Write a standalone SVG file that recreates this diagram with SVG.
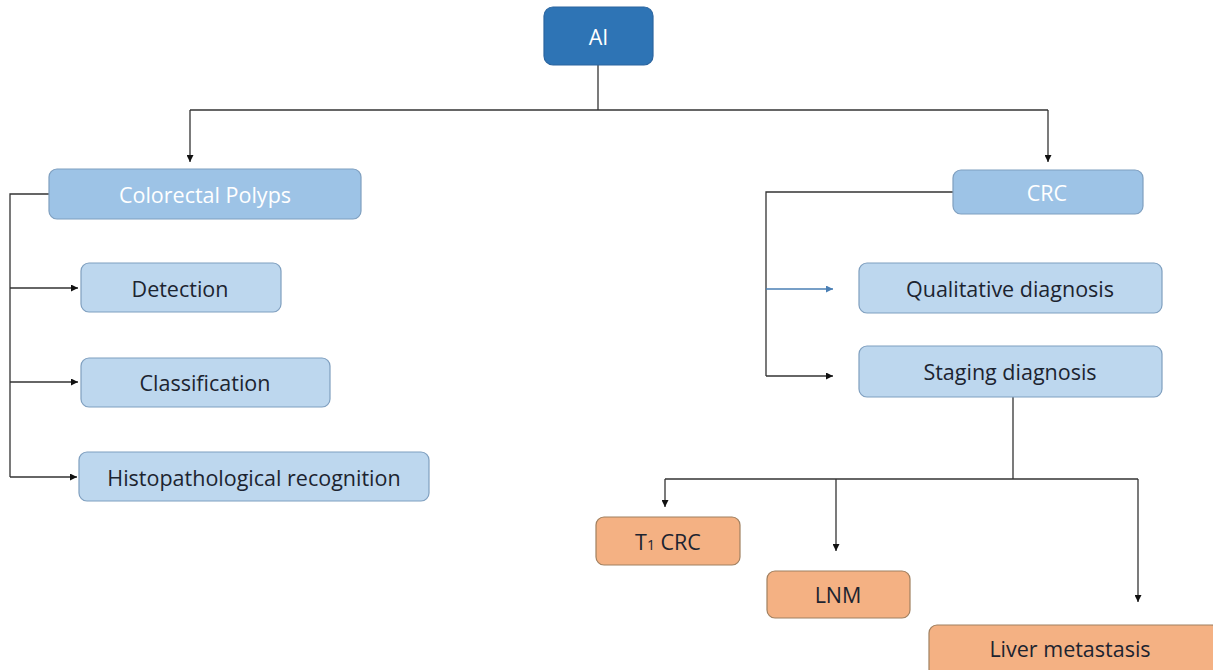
<svg xmlns="http://www.w3.org/2000/svg" width="1213" height="670" viewBox="0 0 1213 670">
  <defs>
    <marker id="arr" viewBox="0 0 10 10" refX="10" refY="5" markerWidth="7" markerHeight="7" orient="auto" markerUnits="userSpaceOnUse">
      <path d="M0,0 L10,5 L0,10 z" fill="#111"/>
    </marker>
    <marker id="arrBlue" viewBox="0 0 10 10" refX="10" refY="5" markerWidth="7" markerHeight="7" orient="auto" markerUnits="userSpaceOnUse">
      <path d="M0,0 L10,5 L0,10 z" fill="#4a7fb5"/>
    </marker>
  </defs>
  <style>
    .box { stroke-width: 1.2; }
    .root { fill: #2e74b5; stroke: #2a65a0; }
    .mid { fill: #9dc3e6; stroke: #7f9fbf; }
    .leaf { fill: #bdd7ee; stroke: #7f9fbf; }
    .stage { fill: #f4b183; stroke: #a08060; }
    .lbl { font-family: "Open Sans", "Liberation Sans", sans-serif; font-size: 21.5px; text-anchor: middle; dominant-baseline: central; fill: #1c2430; }
    .lt { fill: #ffffff; }
    .con { fill: none; stroke: #333; stroke-width: 1.3; }
    .blue { stroke: #4a7fb5; }
  </style>
  <rect width="1213" height="670" fill="#ffffff"/>

  <g id="connectors">
    <path class="con" d="M598,65 V110"/>
    <path class="con" d="M190,110 H1048"/>
    <path class="con" d="M190,110 V162" marker-end="url(#arr)"/>
    <path class="con" d="M1048,110 V162" marker-end="url(#arr)"/>
    <path class="con" d="M49,194 H10 V477"/>
    <path class="con" d="M10,288 H78" marker-end="url(#arr)"/>
    <path class="con" d="M10,382 H78" marker-end="url(#arr)"/>
    <path class="con" d="M10,477 H77" marker-end="url(#arr)"/>
    <path class="con" d="M953,192 H766 V376"/>
    <path class="con blue" d="M766,289 H833" marker-end="url(#arrBlue)"/>
    <path class="con" d="M766,376 H833" marker-end="url(#arr)"/>
    <path class="con" d="M1013,397 V479"/>
    <path class="con" d="M665,479 H1138"/>
    <path class="con" d="M665,479 V507" marker-end="url(#arr)"/>
    <path class="con" d="M836,479 V551" marker-end="url(#arr)"/>
    <path class="con" d="M1138,479 V602" marker-end="url(#arr)"/>
  </g>

  <g id="ai">
    <rect class="box root" x="544" y="7" width="109" height="58" rx="9"/>
    <text class="lbl lt" x="598.5" y="36">AI</text>
  </g>
  <g id="colorectal-polyps">
    <rect class="box mid" x="49" y="169" width="312" height="50" rx="8"/>
    <text class="lbl lt" x="205" y="194">Colorectal Polyps</text>
  </g>
  <g id="detection">
    <rect class="box leaf" x="81" y="263" width="200" height="49" rx="8"/>
    <text class="lbl" x="180" y="288">Detection</text>
  </g>
  <g id="classification">
    <rect class="box leaf" x="81" y="358" width="249" height="49" rx="8"/>
    <text class="lbl" x="205" y="382">Classification</text>
  </g>
  <g id="histopathological-recognition">
    <rect class="box leaf" x="79" y="452" width="350" height="49" rx="8"/>
    <text class="lbl" x="254" y="477">Histopathological recognition</text>
  </g>
  <g id="crc">
    <rect class="box mid" x="953" y="170" width="190" height="44" rx="8"/>
    <text class="lbl lt" x="1047" y="192">CRC</text>
  </g>
  <g id="qualitative-diagnosis">
    <rect class="box leaf" x="859" y="263" width="303" height="50" rx="8"/>
    <text class="lbl" x="1010" y="288">Qualitative diagnosis</text>
  </g>
  <g id="staging-diagnosis">
    <rect class="box leaf" x="859" y="346" width="303" height="51" rx="8"/>
    <text class="lbl" x="1010" y="371">Staging diagnosis</text>
  </g>
  <g id="t1-crc">
    <rect class="box stage" x="596" y="517" width="144" height="48" rx="8"/>
    <text class="lbl" x="668" y="541">T<tspan font-size="14" dy="3">1</tspan><tspan dy="-3"> CRC</tspan></text>
  </g>
  <g id="lnm">
    <rect class="box stage" x="767" y="571" width="143" height="47" rx="8"/>
    <text class="lbl" x="838" y="594">LNM</text>
  </g>
  <g id="liver-metastasis">
    <rect class="box stage" x="929" y="625" width="290" height="52" rx="8"/>
    <text class="lbl" x="1070" y="648">Liver metastasis</text>
  </g>
</svg>
